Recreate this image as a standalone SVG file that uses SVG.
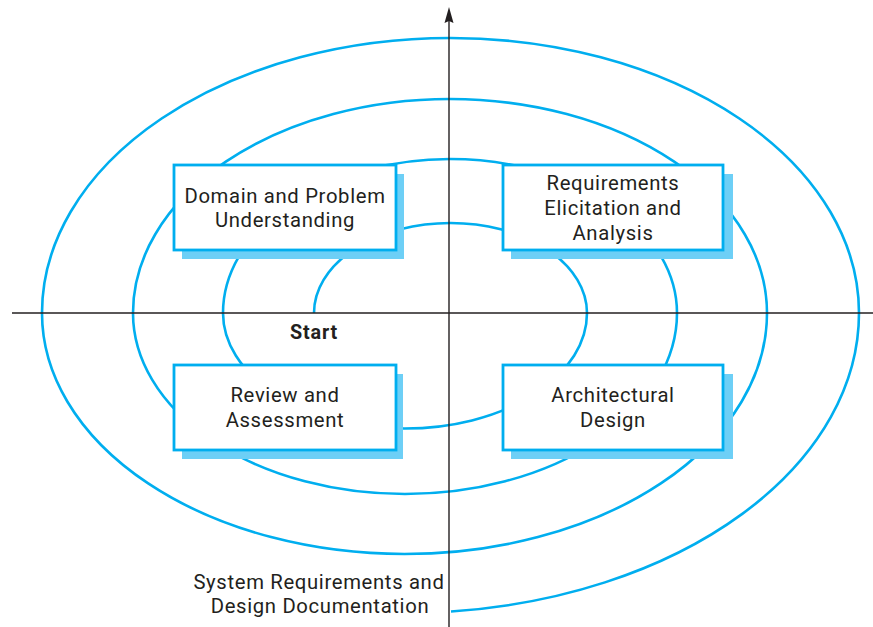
<svg xmlns="http://www.w3.org/2000/svg" width="873" height="627" viewBox="0 0 873 627">
  <style>
    .spiral { fill: none; stroke: #00aeef; stroke-width: 2.6; }
    .axis { fill: none; stroke: #231f20; stroke-width: 1.4; }
    .head { fill: #231f20; stroke: none; }
    .box { fill: #ffffff; stroke: #00aeef; stroke-width: 2.8; }
    .shadow { fill: #6dcff6; stroke: none; }
    .lbl { font-family: Roboto, "Liberation Sans", sans-serif; font-size: 20.3px; letter-spacing: 0.65px; fill: #231f20; text-anchor: middle; }
    .bold { font-weight: bold; font-size: 19.8px; letter-spacing: 0.8px; }
  </style>
  <rect width="873" height="627" fill="#ffffff"/>
  <g id="connectors">
    <path class="spiral" d="M314 313 A136.5 90 0 0 1 587 313 A182 115.5 0 0 1 223 313 A227 154 0 0 1 677 313 A272 181 0 0 1 133 313 A317 214 0 0 1 767 313 A362.5 241 0 0 1 42 313 A408.5 275 0 0 1 859 313 A454 300 0 0 1 451 611.5"/>
    <line class="axis" x1="12" y1="313" x2="873" y2="313"/>
    <line class="axis" x1="449" y1="627" x2="449" y2="20"/>
    <path class="head" d="M449 7 L453.5 23 L449 21 L444.5 23 Z"/>
  </g>
  <g id="node-domain">
    <rect class="shadow" x="182" y="174" width="222" height="85"/>
    <rect class="box" x="174" y="165" width="222" height="85"/>
    <text class="lbl" x="285" y="203">Domain and Problem<tspan x="285" dy="24">Understanding</tspan></text>
  </g>
  <g id="node-requirements">
    <rect class="shadow" x="511" y="174" width="222" height="85"/>
    <rect class="box" x="503" y="165" width="220" height="85"/>
    <text class="lbl" x="613" y="190">Requirements<tspan x="613" dy="25">Elicitation and</tspan><tspan x="613" dy="25">Analysis</tspan></text>
  </g>
  <g id="node-review">
    <rect class="shadow" x="182" y="374" width="221" height="85"/>
    <rect class="box" x="174" y="365" width="222" height="85"/>
    <text class="lbl" x="285" y="402">Review and<tspan x="285" dy="25">Assessment</tspan></text>
  </g>
  <g id="node-architectural">
    <rect class="shadow" x="511" y="374" width="222" height="85"/>
    <rect class="box" x="503" y="365" width="220" height="85"/>
    <text class="lbl" x="613" y="402">Architectural<tspan x="613" dy="25">Design</tspan></text>
  </g>
  <g id="node-start">
    <text class="lbl bold" x="314" y="339">Start</text>
  </g>
  <g id="node-documentation">
    <text class="lbl" x="319" y="589">System Requirements and<tspan x="320" dy="24">Design Documentation</tspan></text>
  </g>
</svg>
